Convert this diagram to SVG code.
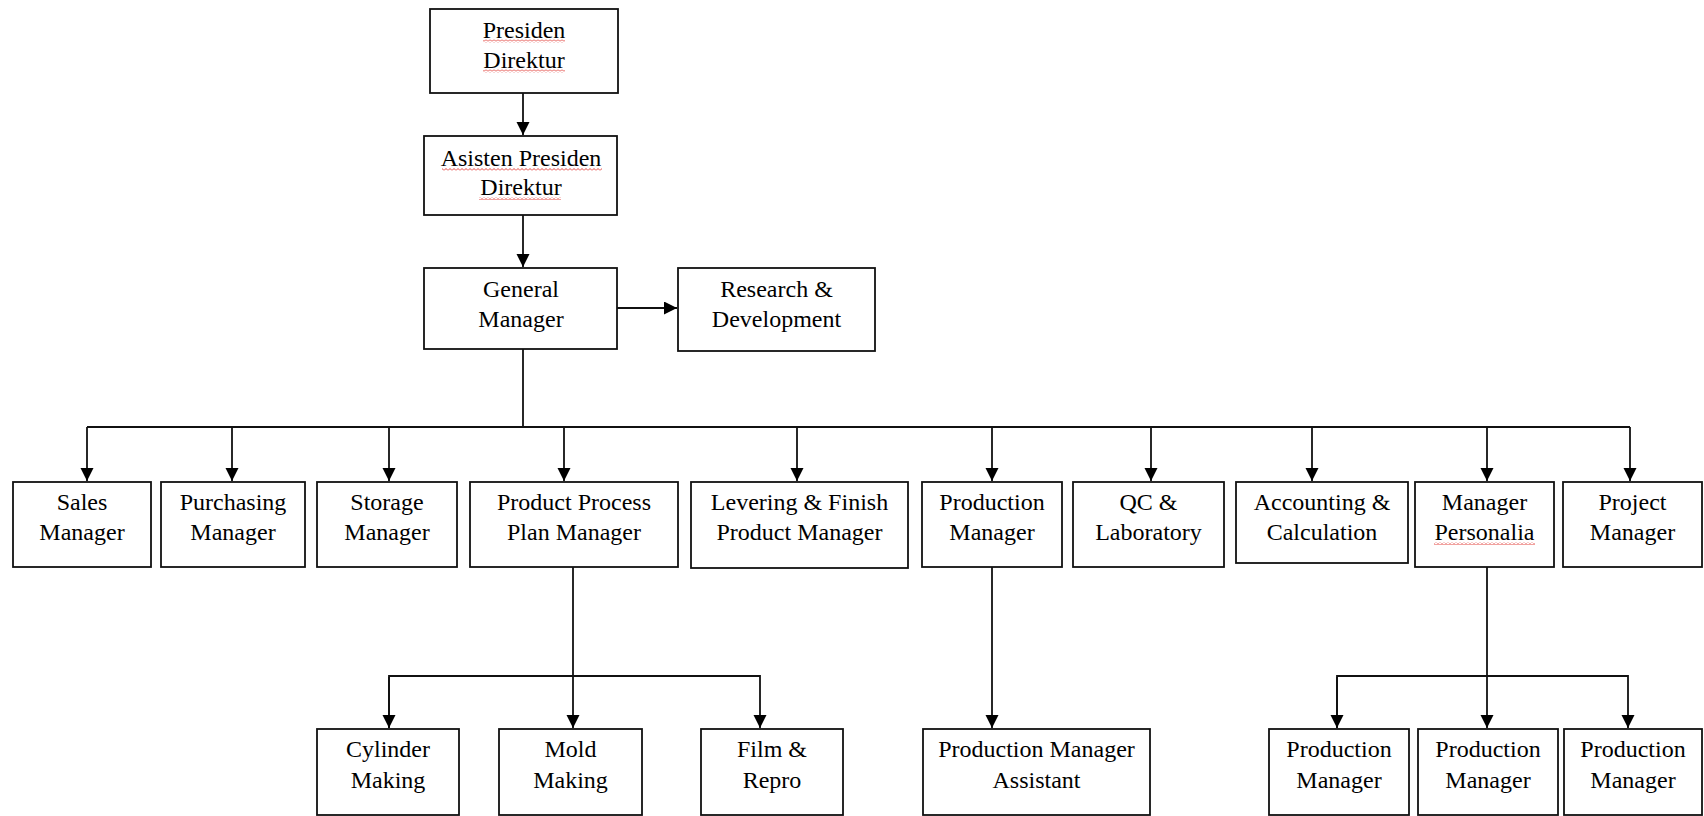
<svg xmlns="http://www.w3.org/2000/svg" width="1704" height="816" viewBox="0 0 1704 816">
<style>
  .box{fill:#fff;stroke:#111;stroke-width:1.8}
  .t{font-family:"Liberation Serif","Times New Roman",serif;font-size:24px;fill:#000;text-anchor:middle}
  .c{fill:none;stroke:#111;stroke-width:1.8}
  .sq{fill:url(#squig)}
</style>
<defs>
  <marker id="ah" markerUnits="userSpaceOnUse" markerWidth="14" markerHeight="14" refX="13" refY="6.5" orient="auto">
    <path d="M0,0 L13,6.5 L0,13 Z" fill="#000"/>
  </marker>
  <pattern id="squig" patternUnits="userSpaceOnUse" width="4" height="3">
    <path d="M0,2.5 L2,0.5 L4,2.5" fill="none" stroke="#e0302a" stroke-width="0.9"/>
  </pattern>
</defs>
<rect width="1704" height="816" fill="#fff"/>

<g id="connectors">
  <path class="c" d="M523,93 V135" marker-end="url(#ah)"/>
  <path class="c" d="M523,215 V267" marker-end="url(#ah)"/>
  <path class="c" d="M617,308 H677" marker-end="url(#ah)"/>
  <path class="c" d="M523,349 V427"/>
  <path class="c" d="M87,427 H1630"/>
  <path class="c" d="M87,427 V481" marker-end="url(#ah)"/>
  <path class="c" d="M232,427 V481" marker-end="url(#ah)"/>
  <path class="c" d="M389,427 V481" marker-end="url(#ah)"/>
  <path class="c" d="M564,427 V481" marker-end="url(#ah)"/>
  <path class="c" d="M797,427 V481" marker-end="url(#ah)"/>
  <path class="c" d="M992,427 V481" marker-end="url(#ah)"/>
  <path class="c" d="M1151,427 V481" marker-end="url(#ah)"/>
  <path class="c" d="M1312,427 V481" marker-end="url(#ah)"/>
  <path class="c" d="M1487,427 V481" marker-end="url(#ah)"/>
  <path class="c" d="M1630,427 V481" marker-end="url(#ah)"/>
  <path class="c" d="M573,567 V728" marker-end="url(#ah)"/>
  <path class="c" d="M389,728 V676 H760 V728" marker-end="url(#ah)"/>
  <path class="c" d="M389,677 V728" marker-end="url(#ah)"/>
  <path class="c" d="M992,567 V728" marker-end="url(#ah)"/>
  <path class="c" d="M1487,567 V728" marker-end="url(#ah)"/>
  <path class="c" d="M1337,728 V676 H1628 V728" marker-end="url(#ah)"/>
  <path class="c" d="M1337,677 V728" marker-end="url(#ah)"/>
</g>

<g id="presiden-direktur">
  <rect class="box" x="430" y="9" width="188" height="84"/>
  <rect class="sq" x="483" y="39.5" width="82" height="3"/>
  <rect class="sq" x="483" y="69.5" width="82" height="3"/>
  <text class="t" x="524" y="38">Presiden</text>
  <text class="t" x="524" y="68">Direktur</text>
</g>
<g id="asisten-presiden-direktur">
  <rect class="box" x="424" y="136" width="193" height="79"/>
  <rect class="sq" x="442" y="168" width="160" height="3"/>
  <rect class="sq" x="479" y="197" width="82" height="3"/>
  <text class="t" x="521" y="166">Asisten Presiden</text>
  <text class="t" x="521" y="195">Direktur</text>
</g>
<g id="general-manager">
  <rect class="box" x="424" y="268" width="193" height="81"/>
  <text class="t" x="521" y="297">General</text>
  <text class="t" x="521" y="327">Manager</text>
</g>
<g id="research-development">
  <rect class="box" x="678" y="268" width="197" height="83"/>
  <text class="t" x="776.5" y="297">Research &amp;</text>
  <text class="t" x="776.5" y="327">Development</text>
</g>

<g id="sales-manager">
  <rect class="box" x="13" y="482" width="138" height="85"/>
  <text class="t" x="82" y="510">Sales</text>
  <text class="t" x="82" y="540">Manager</text>
</g>
<g id="purchasing-manager">
  <rect class="box" x="161" y="482" width="144" height="85"/>
  <text class="t" x="233" y="510">Purchasing</text>
  <text class="t" x="233" y="540">Manager</text>
</g>
<g id="storage-manager">
  <rect class="box" x="317" y="482" width="140" height="85"/>
  <text class="t" x="387" y="510">Storage</text>
  <text class="t" x="387" y="540">Manager</text>
</g>
<g id="product-process-plan-manager">
  <rect class="box" x="470" y="482" width="208" height="85"/>
  <text class="t" x="574" y="510">Product Process</text>
  <text class="t" x="574" y="540">Plan Manager</text>
</g>
<g id="levering-finish-product-manager">
  <rect class="box" x="691" y="482" width="217" height="86"/>
  <text class="t" x="799.5" y="510">Levering &amp; Finish</text>
  <text class="t" x="799.5" y="540">Product Manager</text>
</g>
<g id="production-manager">
  <rect class="box" x="922" y="482" width="140" height="85"/>
  <text class="t" x="992" y="510">Production</text>
  <text class="t" x="992" y="540">Manager</text>
</g>
<g id="qc-laboratory">
  <rect class="box" x="1073" y="482" width="151" height="85"/>
  <text class="t" x="1148.5" y="510">QC &amp;</text>
  <text class="t" x="1148.5" y="540">Laboratory</text>
</g>
<g id="accounting-calculation">
  <rect class="box" x="1236" y="482" width="172" height="81"/>
  <text class="t" x="1322" y="510">Accounting &amp;</text>
  <text class="t" x="1322" y="540">Calculation</text>
</g>
<g id="manager-personalia">
  <rect class="box" x="1415" y="482" width="139" height="85"/>
  <rect class="sq" x="1434" y="542" width="101" height="3"/>
  <text class="t" x="1484.5" y="510">Manager</text>
  <text class="t" x="1484.5" y="540">Personalia</text>
</g>
<g id="project-manager">
  <rect class="box" x="1563" y="482" width="139" height="85"/>
  <text class="t" x="1632.5" y="510">Project</text>
  <text class="t" x="1632.5" y="540">Manager</text>
</g>

<g id="cylinder-making">
  <rect class="box" x="317" y="729" width="142" height="86"/>
  <text class="t" x="388" y="757">Cylinder</text>
  <text class="t" x="388" y="788">Making</text>
</g>
<g id="mold-making">
  <rect class="box" x="499" y="729" width="143" height="86"/>
  <text class="t" x="570.5" y="757">Mold</text>
  <text class="t" x="570.5" y="788">Making</text>
</g>
<g id="film-repro">
  <rect class="box" x="701" y="729" width="142" height="86"/>
  <text class="t" x="772" y="757">Film &amp;</text>
  <text class="t" x="772" y="788">Repro</text>
</g>
<g id="production-manager-assistant">
  <rect class="box" x="923" y="729" width="227" height="86"/>
  <text class="t" x="1036.5" y="757">Production Manager</text>
  <text class="t" x="1036.5" y="788">Assistant</text>
</g>
<g id="production-manager-1">
  <rect class="box" x="1269" y="729" width="140" height="86"/>
  <text class="t" x="1339" y="757">Production</text>
  <text class="t" x="1339" y="788">Manager</text>
</g>
<g id="production-manager-2">
  <rect class="box" x="1418" y="729" width="140" height="86"/>
  <text class="t" x="1488" y="757">Production</text>
  <text class="t" x="1488" y="788">Manager</text>
</g>
<g id="production-manager-3">
  <rect class="box" x="1564" y="729" width="138" height="86"/>
  <text class="t" x="1633" y="757">Production</text>
  <text class="t" x="1633" y="788">Manager</text>
</g>
</svg>
